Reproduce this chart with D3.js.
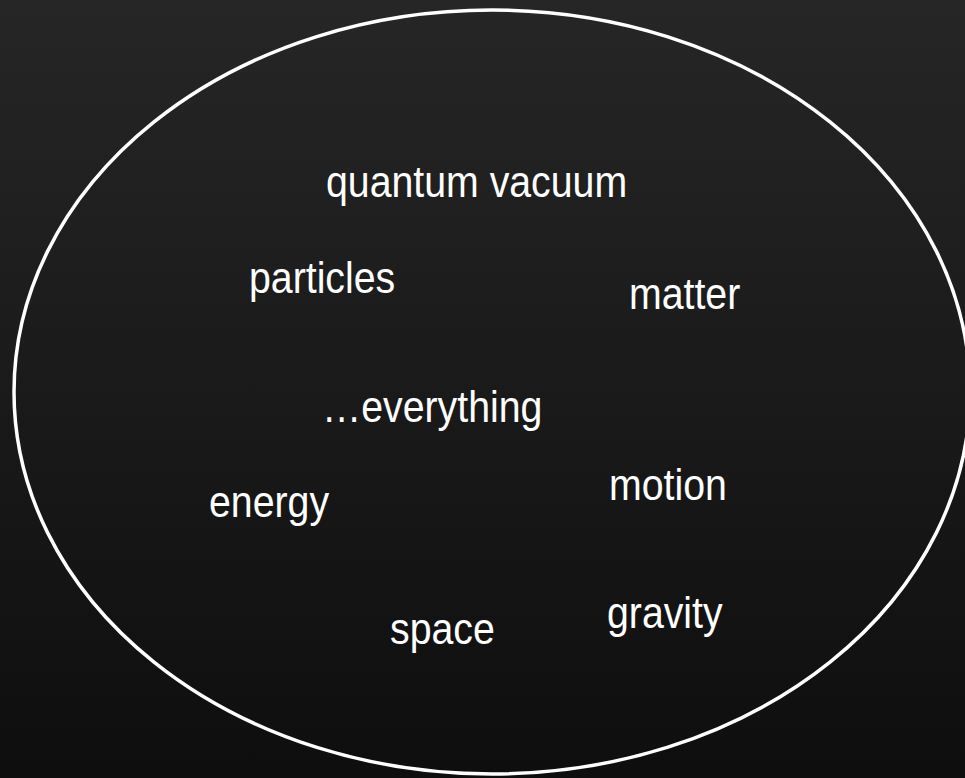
<!DOCTYPE html>
<html>
<head>
<meta charset="utf-8">
<script src="https://cdn.jsdelivr.net/npm/d3@7"></script>
<style>
  html, body { margin: 0; padding: 0; background: #181818; overflow: hidden; }
  svg { display: block; }
</style>
</head>
<body>
<svg id="chart" width="965" height="778"></svg>
<script>
// ---- data ----
const terms = ["quantum vacuum", "particles", "matter", "\u2026everything", "energy", "motion", "space", "gravity"];

// ---- layout (left x, baseline y of each label) ----
const labelLeft = [326, 249, 629, 322, 209, 609, 390, 607];
const labelBase = [197, 293, 309, 422, 517, 500, 644, 628];

const W = 965, H = 778;
const svg = d3.select("#chart");

const defs = svg.append("defs");
const grad = defs.append("linearGradient")
  .attr("id", "bg").attr("x1", 0).attr("y1", 0).attr("x2", 0).attr("y2", 1);
grad.append("stop").attr("offset", "0%").attr("stop-color", "#262626");
grad.append("stop").attr("offset", "100%").attr("stop-color", "#0e0e0e");

svg.append("rect").attr("width", W).attr("height", H).attr("fill", "url(#bg)");

svg.append("ellipse")
  .attr("cx", 492).attr("cy", 392)
  .attr("rx", 478).attr("ry", 382)
  .attr("fill", "none")
  .attr("stroke", "#ffffff")
  .attr("stroke-width", 3.5);

const g = svg.append("g");
g.selectAll("text")
  .data(terms)
  .join("text")
  .attr("transform", (d, i) => `translate(${labelLeft[i]},${labelBase[i]}) scale(1.02,1.14)`)
  .attr("x", 0).attr("y", 0)
  .attr("fill", "#ffffff")
  .attr("font-family", "'Liberation Sans', Arial, sans-serif")
  .attr("font-size", 38.5)
  .text(d => d);
</script>
</body>
</html>
